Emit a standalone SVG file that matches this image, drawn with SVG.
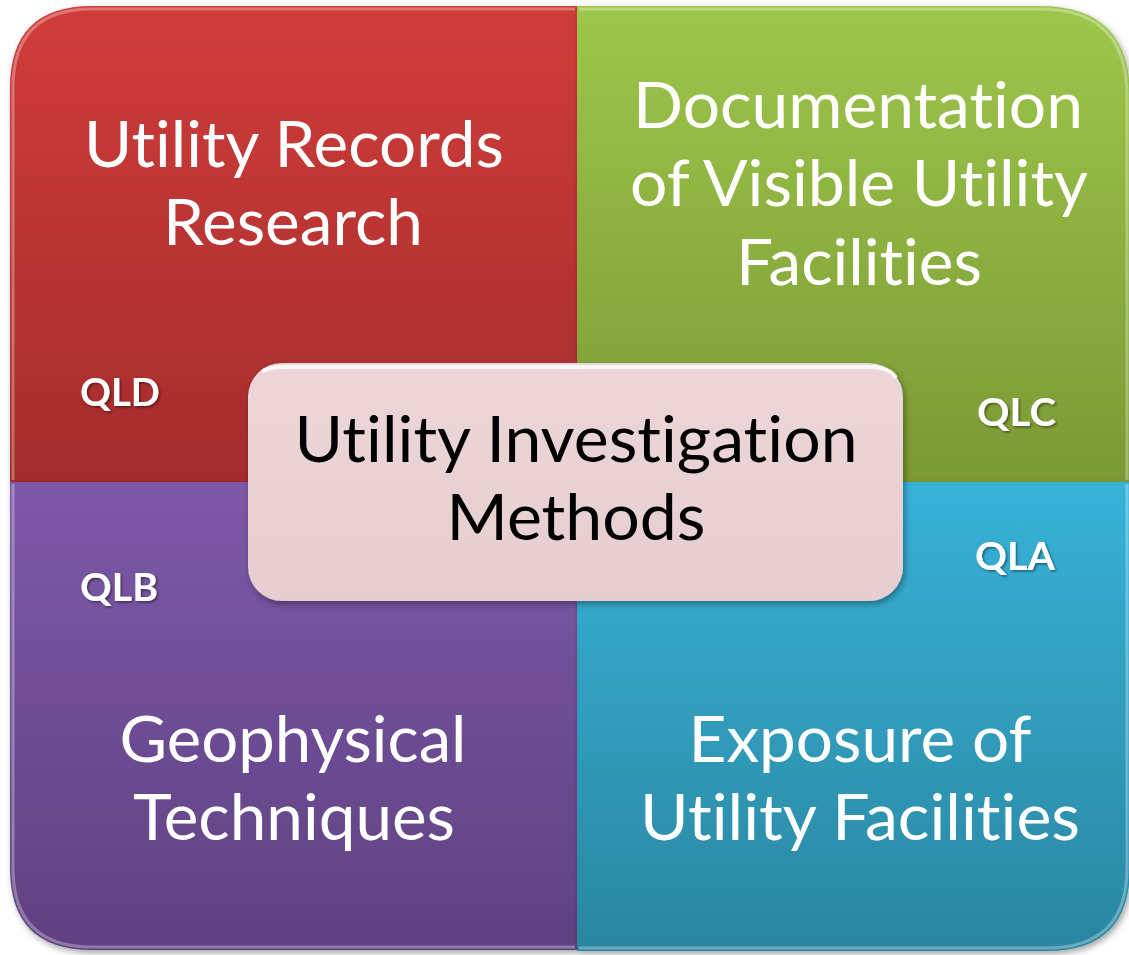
<svg xmlns="http://www.w3.org/2000/svg" width="1129" height="955" viewBox="0 0 1129 955">
<defs>
<linearGradient id="gRed" x1="0" y1="0" x2="0" y2="1"><stop offset="0" stop-color="#D03C3B"/><stop offset="1" stop-color="#A42C2C"/></linearGradient>
<linearGradient id="gGreen" x1="0" y1="0" x2="0" y2="1"><stop offset="0" stop-color="#9EC64B"/><stop offset="1" stop-color="#7B9935"/></linearGradient>
<linearGradient id="gPurple" x1="0" y1="0" x2="0" y2="1"><stop offset="0" stop-color="#7C59A8"/><stop offset="1" stop-color="#5F4181"/></linearGradient>
<linearGradient id="gBlue" x1="0" y1="0" x2="0" y2="1"><stop offset="0" stop-color="#37B2D8"/><stop offset="1" stop-color="#2A86A0"/></linearGradient>
<linearGradient id="gCenter" x1="0" y1="0" x2="0" y2="1"><stop offset="0" stop-color="#ECD6D8"/><stop offset="1" stop-color="#E6CED0"/></linearGradient>
<filter id="sh" x="-10%" y="-10%" width="120%" height="120%"><feDropShadow dx="2" dy="3" stdDeviation="3" flood-color="#000" flood-opacity="0.35"/></filter>
<filter id="tsh" x="-10%" y="-10%" width="120%" height="130%"><feDropShadow dx="1.5" dy="1.5" stdDeviation="1" flood-color="#000" flood-opacity="0.45"/></filter>
</defs>
<style>
text{font-variant-ligatures:none;font-feature-settings:"liga" 0,"clig" 0,"dlig" 0}
.big{font-family:Lato,"Open Sans","Liberation Sans",sans-serif;font-size:64px;fill:#fff;text-anchor:middle}
.ctr{font-family:Lato,"Open Sans","Liberation Sans",sans-serif;font-size:64px;fill:#000;text-anchor:middle}
.ql{font-family:Lato,"Open Sans","Liberation Sans",sans-serif;font-size:38px;font-weight:bold;fill:#fff}
.hl{fill:none;stroke:#fff;stroke-opacity:0.3;stroke-width:3}
</style>
<g id="red" filter="url(#sh)">
<path d="M10,482 V88 Q10,6 92,6 H577 V482 Z" fill="url(#gRed)"/>
<path class="hl" d="M13,480 V88 Q13,9 92,9 H575"/>
<text class="big" x="294" y="167" textLength="420" lengthAdjust="spacingAndGlyphs">Utility Records</text>
<text class="big" x="293" y="245" textLength="260" lengthAdjust="spacingAndGlyphs">Research</text>
</g>
<g id="green" filter="url(#sh)">
<path d="M577,482 V6 H1040 Q1130,6 1130,96 V482 Z" fill="url(#gGreen)"/>
<path class="hl" d="M579,9 H1040 Q1127,9 1127,96 V480"/>
<text class="big" x="858" y="128" textLength="450" lengthAdjust="spacingAndGlyphs">Documentation</text>
<text class="big" x="859" y="206" textLength="458" lengthAdjust="spacingAndGlyphs">of Visible Utility</text>
<text class="big" x="859" y="285" textLength="246" lengthAdjust="spacingAndGlyphs">Facilities</text>
</g>
<g id="purple" filter="url(#sh)">
<path d="M10,482 H577 V950 H92 Q10,950 10,868 Z" fill="url(#gPurple)"/>
<path class="hl" d="M13,484 V868 Q13,947 92,947 H575"/>
<text class="big" x="293" y="762" textLength="347" lengthAdjust="spacingAndGlyphs">Geophysical</text>
<text class="big" x="294" y="840" textLength="322" lengthAdjust="spacingAndGlyphs">Techniques</text>
</g>
<g id="blue" filter="url(#sh)">
<path d="M577,482 H1130 V868 Q1130,951 1047,951 H577 Z" fill="url(#gBlue)"/>
<path class="hl" d="M579,948 H1047 Q1127,948 1127,868 V484"/>
<text class="big" x="860" y="762" textLength="343" lengthAdjust="spacingAndGlyphs">Exposure of</text>
<text class="big" x="860" y="840" textLength="440" lengthAdjust="spacingAndGlyphs">Utility Facilities</text>
</g>
<g id="labels" filter="url(#tsh)">
<text class="ql" x="80" y="406" textLength="80" lengthAdjust="spacingAndGlyphs">QLD</text>
<text class="ql" x="977" y="426" textLength="79" lengthAdjust="spacingAndGlyphs">QLC</text>
<text class="ql" x="975" y="570" textLength="80" lengthAdjust="spacingAndGlyphs">QLA</text>
<text class="ql" x="80" y="601" textLength="78" lengthAdjust="spacingAndGlyphs">QLB</text>
</g>
<g id="center" filter="url(#sh)">
<rect x="248" y="363" width="655" height="238" rx="34" fill="url(#gCenter)"/>
<path d="M262,372 Q268,367 282,367 H869 Q890,367 896,378" fill="none" stroke="#fff" stroke-opacity="0.8" stroke-width="4"/>
<text class="ctr" x="576" y="462" textLength="563" lengthAdjust="spacingAndGlyphs">Utility Investigation</text>
<text class="ctr" x="576" y="540" textLength="259" lengthAdjust="spacingAndGlyphs">Methods</text>
</g>
<g id="connectors"/>
</svg>
